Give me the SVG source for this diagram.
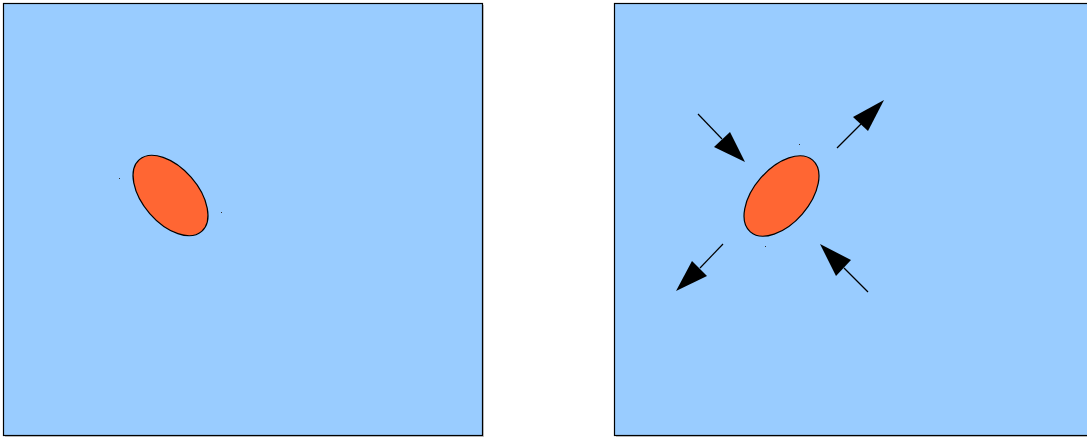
<svg xmlns="http://www.w3.org/2000/svg" width="1087" height="439" viewBox="0 0 1087 439">
<style>
.panel{fill:#99ccff;stroke:#000;stroke-width:1.2}
.shadow{fill:#c8c8c8}
.blob{fill:#ff6633;stroke:#000;stroke-width:1.2}
.shaft{stroke:#000;stroke-width:1.2;fill:none}
.head{fill:#000}
.dot{fill:#333}
</style>
<rect width="1087" height="439" fill="#fff"/>
<g id="left-panel">
<rect class="shadow" x="5" y="5" width="479" height="432"/>
<rect class="panel" x="3.5" y="3.5" width="479" height="432"/>
<ellipse class="blob" cx="170.5" cy="195.5" rx="47.5" ry="27.5" transform="rotate(49 170.5 195.5)"/>
<rect class="dot" x="119" y="178" width="1" height="1"/>
<rect class="dot" x="221" y="212" width="1" height="1"/>
</g>
<g id="right-panel">
<rect class="shadow" x="616" y="5" width="479" height="432"/>
<rect class="panel" x="614.5" y="3.5" width="479" height="432"/>
<ellipse class="blob" cx="781.5" cy="196" rx="47.5" ry="27.5" transform="rotate(-49 781.5 196)"/>
<rect class="dot" x="799" y="144" width="1" height="1"/>
<rect class="dot" x="765" y="246" width="1" height="1"/>
</g>
<g id="connectors">
<line class="shaft" x1="698" y1="114" x2="722" y2="139"/>
<polygon class="head" points="714,147 730,132 745,162"/>
<line class="shaft" x1="837" y1="148" x2="861" y2="124"/>
<polygon class="head" points="853,117 868,131 884,100"/>
<line class="shaft" x1="723" y1="244" x2="700" y2="268"/>
<polygon class="head" points="692,261 707,276 676,291"/>
<line class="shaft" x1="868" y1="292" x2="844" y2="268"/>
<polygon class="head" points="836,276 851,260 820,244"/>
</g>
</svg>
